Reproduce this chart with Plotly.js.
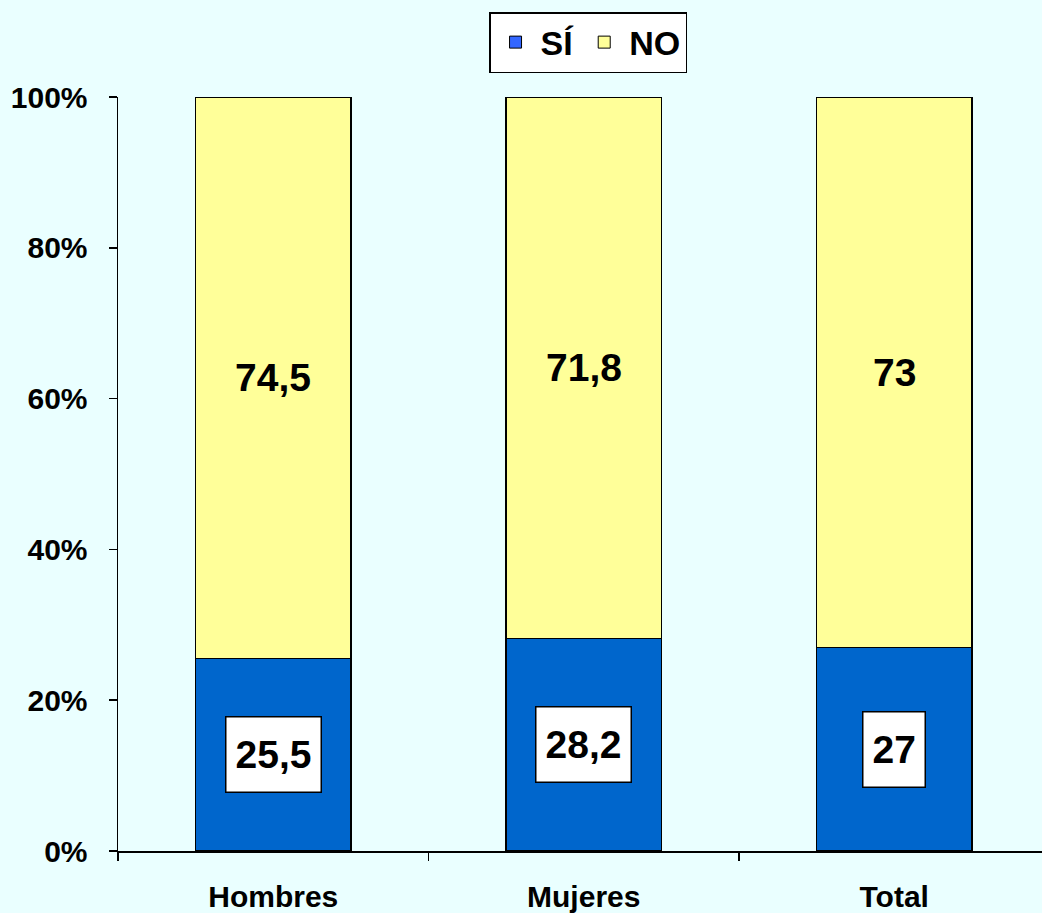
<!DOCTYPE html>
<html>
<head>
<meta charset="utf-8">
<script src="https://cdn.plot.ly/plotly-3.0.1.min.js"></script>
<style>html,body{margin:0;padding:0;background:#EAFFFF;}#chart{width:1042px;height:913px;}</style>
</head>
<body>
<div id="chart"></div>
<script>
const categories = ['Hombres', 'Mujeres', 'Total'];
const siValues = [25.5, 28.2, 27];
const noValues = [74.5, 71.8, 73];
const siLabels = ['25,5', '28,2', '27'];
const noLabels = ['74,5', '71,8', '73'];
const yTickVals = [0, 20, 40, 60, 80, 100];

const FONT = 'Arial, "Liberation Sans", sans-serif';
const barLine = {color: '#000000', width: 1.5};

const traces = [
  {type: 'bar', name: 'SÍ', x: categories, y: siValues, marker: {color: '#0066CC', line: barLine}, showlegend: false, hoverinfo: 'skip'},
  {type: 'bar', name: 'NO', x: categories, y: noValues, marker: {color: '#FFFF99', line: barLine}, showlegend: false, hoverinfo: 'skip'},
  {type: 'bar', name: 'SÍ', x: [categories[0]], y: [null], marker: {color: '#3366FF', line: {color: '#000', width: 1}}, showlegend: true},
  {type: 'bar', name: 'NO', x: [categories[0]], y: [null], marker: {color: '#FFFF99', line: {color: '#000', width: 1}}, showlegend: true}
];

const annotations = [];
categories.forEach((c, i) => {
  annotations.push({
    x: c, y: siValues[i] / 2, xref: 'x', yref: 'y', text: siLabels[i], showarrow: false,
    font: {family: FONT, size: 39, color: '#000', weight: 'bold'},
    bgcolor: '#FFFFFF', bordercolor: '#000000', borderwidth: 1.5, borderpad: 9, height: 56
  });
  annotations.push({
    x: c, y: siValues[i] + noValues[i] / 2, xref: 'x', yref: 'y', text: noLabels[i], showarrow: false,
    font: {family: FONT, size: 39, color: '#000', weight: 'bold'}
  });
});

const layout = {
  width: 1042, height: 913,
  paper_bgcolor: '#EAFFFF', plot_bgcolor: '#EAFFFF',
  margin: {l: 118, r: 0, t: 97, b: 62},
  barmode: 'stack', bargap: 0.5,
  font: {family: FONT, color: '#000', size: 28, weight: 'bold'},
  showlegend: true,
  legend: {
    orientation: 'h', x: 0.5087, xanchor: 'center', y: 1.1127, yanchor: 'top',
    traceorder: 'normal',
    bgcolor: '#FFFFFF', bordercolor: '#000000', borderwidth: 1.5,
    font: {family: FONT, size: 34, color: '#000', weight: 'bold'},
    itemwidth: 40, tracegroupgap: 0
  },
  xaxis: {
    type: 'category', range: [-0.5, 2.476], fixedrange: true,
    showline: true, linecolor: '#000', linewidth: 1.5,
    ticks: 'outside', ticklen: 8, tickwidth: 1.5, tickcolor: '#000', tickson: 'boundaries',
    ticklabelstandoff: 18,
    tickfont: {family: FONT, size: 30, color: '#000', weight: 'bold'},
    showgrid: false, zeroline: false
  },
  yaxis: {
    range: [0, 100], fixedrange: true,
    tickvals: yTickVals, ticktext: yTickVals.map(v => v + '%'),
    showline: true, linecolor: '#000', linewidth: 1.5,
    ticks: 'outside', ticklen: 8, tickwidth: 1.5, tickcolor: '#000',
    ticklabelstandoff: 15,
    tickfont: {family: FONT, size: 30, color: '#000', weight: 'bold'},
    showgrid: false, zeroline: false
  },
  annotations: annotations
};

Plotly.newPlot('chart', traces, layout, {displayModeBar: false, staticPlot: true});
</script>
</body>
</html>
